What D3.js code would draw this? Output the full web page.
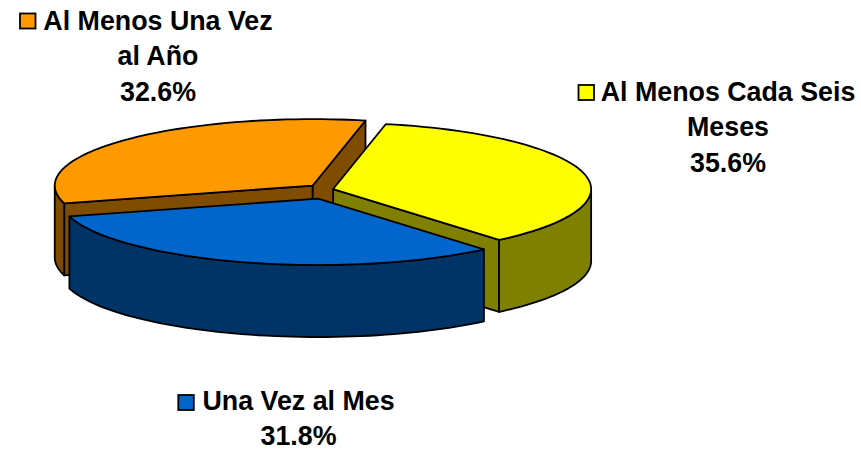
<!DOCTYPE html>
<html><head><meta charset="utf-8">
<script src="https://cdn.jsdelivr.net/npm/d3@7"></script>
<style>html,body{margin:0;padding:0;background:#fff}svg{display:block}text{font-family:"Liberation Sans",Arial,sans-serif;font-weight:bold;font-size:26.8px;fill:#000}</style>
</head><body><div id="chart"></div>
<script>
const categories = ["Al Menos Cada Seis Meses", "Una Vez al Mes", "Al Menos Una Vez al Año"];
const values = [35.6, 31.8, 32.6];
const labelLines = [["Al Menos Cada Seis", "Meses", "35.6%"], ["Una Vez al Mes", "31.8%"], ["Al Menos Una Vez", "al Año", "32.6%"]];
const topColors = ["#FFFF00", "#0066CC", "#FF9900"];
const sideColors = ["#808000", "#003366", "#804D00"];
const labelCenterX = [728, 298.5, 158];
const labelBaselineY = [100.5, 409.7, 29.7];
const keyX = [578.5, 178.3, 20];
const keyY = [85, 395, 13.5];

const W = 861, H = 451;
const cx = 321.5, cy = 191, rx = 258, ry = 66.4, depth = 72, exX = 12, exY = 8, lineGap = 35.5;
const startAngle = 11.8 * Math.PI / 180;
const svg = d3.select("#chart").append("svg").attr("width", W).attr("height", H);

const pie = d3.pie().sort(null).startAngle(startAngle).endAngle(startAngle + 2 * Math.PI);
const arcs = pie(values);
const line = d3.line();
const sampleAngles = (a, b) => d3.range(0, 61).map(i => a + (b - a) * i / 60);
const style = { stroke: "#000", "stroke-width": 1.8, "stroke-linejoin": "round" };
const drawPoly = (pts, fill) => {
  const p = svg.append("path").attr("d", line(pts) + "Z").attr("fill", fill);
  Object.entries(style).forEach(([k, v]) => p.attr(k, v));
};

// back to front: orange, yellow, blue
[2, 0, 1].forEach(i => {
  const a = arcs[i], mid = (a.startAngle + a.endAngle) / 2;
  const ox = cx + exX * Math.sin(mid), oy = cy - exY * Math.cos(mid);
  const pt = t => [ox + rx * Math.sin(t), oy - ry * Math.cos(t)];
  const face = t => {
    const e = pt(t);
    drawPoly([[ox, oy], e, [e[0], e[1] + depth], [ox, oy + depth]], sideColors[i]);
  };
  if (Math.sin(a.startAngle) < 0) face(a.startAngle);
  if (Math.sin(a.endAngle) > 0) face(a.endAngle);
  // outer wall: the front half of the rim only
  const s = Math.max(a.startAngle, Math.PI / 2), e = Math.min(a.endAngle, 3 * Math.PI / 2);
  if (s < e) {
    const rim = sampleAngles(s, e).map(pt);
    const low = rim.map(p => [p[0], p[1] + depth]).reverse();
    drawPoly(rim.concat(low), sideColors[i]);
  }
  drawPoly([[ox, oy]].concat(sampleAngles(a.startAngle, a.endAngle).map(pt)), topColors[i]);
});

// labels
categories.forEach((c, i) => {
  labelLines[i].forEach((t, j) => {
    svg.append("text").attr("x", labelCenterX[i]).attr("y", labelBaselineY[i] + j * lineGap)
      .attr("text-anchor", "middle").text(t);
  });
  svg.append("rect").attr("x", keyX[i]).attr("y", keyY[i]).attr("width", 15.5).attr("height", 15)
    .attr("fill", topColors[i]).attr("stroke", "#000").attr("stroke-width", 1.8);
});
</script></body></html>
